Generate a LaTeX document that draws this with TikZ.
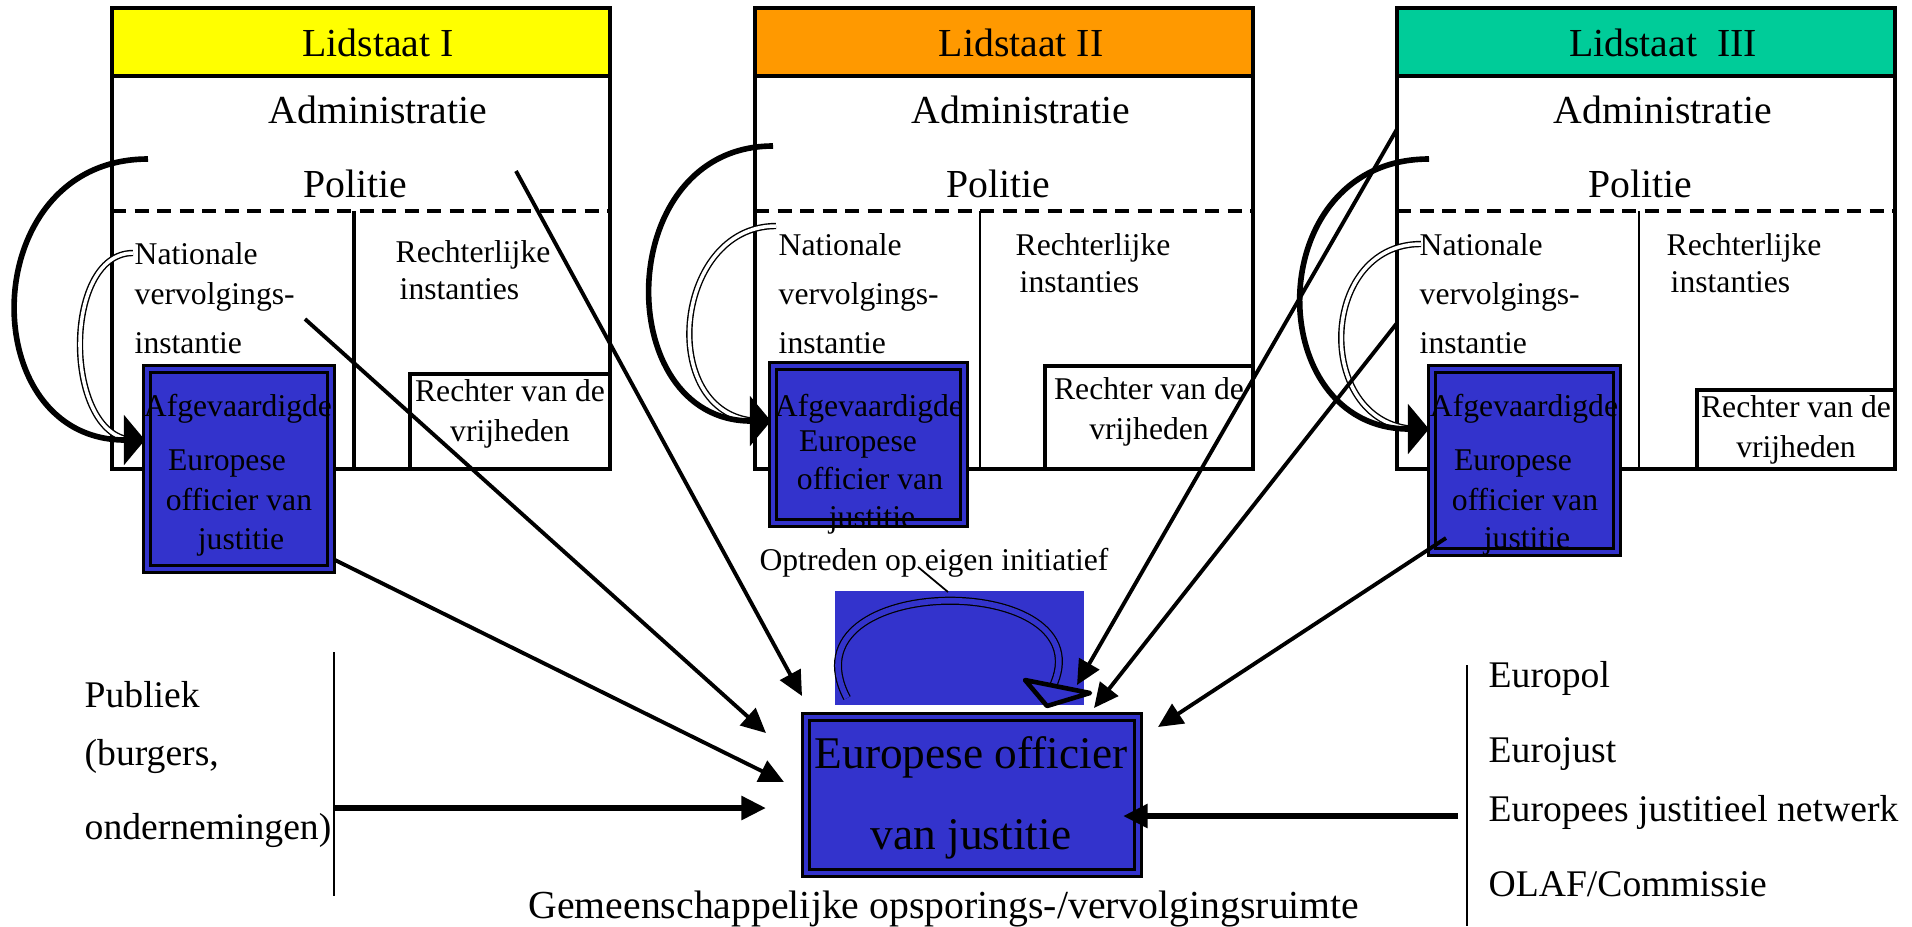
\documentclass[tikz,border=0pt]{standalone}
\usepackage{fontspec}
\setmainfont{Liberation Serif}
\usetikzlibrary{arrows.meta, fit, positioning}

\definecolor{lsyellow}{HTML}{FFFF00}
\definecolor{lsorange}{HTML}{FF9900}
\definecolor{lsgreen}{HTML}{00CC99}
\definecolor{eoblue}{HTML}{3333CC}

\tikzset{
  panel/.style={draw, line width=0.9pt, inner sep=0pt},
  eobox/.style={draw=black, line width=0.85pt, double=eoblue, double distance=0.9pt, fill=eoblue, inner sep=0pt},
  bigtxt/.style={font=\fontsize{11.3}{13}\selectfont, inner sep=0pt, text height=1.5ex, text depth=.25ex},
  smalltxt/.style={font=\fontsize{9}{11}\selectfont, inner sep=0pt, text height=1.5ex, text depth=.25ex},
  listtxt/.style={font=\fontsize{10.7}{12}\selectfont, inner sep=0pt, anchor=west, text height=1.5ex, text depth=.25ex},
  feed/.style={-{Triangle[length=7pt, width=6.5pt]}, line width=1.1pt},
  thickfeed/.style={-{Triangle[length=7pt, width=6.5pt]}, line width=1.7pt},
  bigarc/.style={-{Triangle[length=6pt, width=14pt]}, line width=1.6pt},
  thinarc/.style={draw=black, line width=0.4pt, double=white, double distance=1pt}
}

\begin{document}
\begin{tikzpicture}[x=0.01cm, y=-0.01cm]
        \path[use as bounding box, fill=white] (0,0) rectangle (1912,926);

        % Lidstaten: kop, kader, administratie en politie
        \foreach \nm/\lx/\col/\lab in {I/112/lsyellow/Lidstaat I, II/755/lsorange/Lidstaat II, III/1397/lsgreen/Lidstaat\ \ III}{
            \node[panel, fill=\col, fit={(\lx,8) (\lx+498,76)}] (kop\nm) {};
            \node[panel, fill=white, fit={(\lx,76) (\lx+498,469)}] (kader\nm) {};
            \node[bigtxt] (kopt\nm) at (\lx+266,46) {\lab};
            \node[bigtxt] (adm\nm) at (\lx+266,113) {Administratie};
            \node[bigtxt] (pol\nm) at (\lx+243,187) {Politie};
            \draw[line width=1pt, dash pattern=on 4pt off 2.4pt] (\lx,211) -- (\lx+498,211);
        }

        % Scheiding vervolging / rechters
        \foreach \dx/\lw in {354/1.3pt, 980/0.5pt, 1639/0.5pt}
            \draw[line width=\lw] (\dx,211) -- (\dx,469);

        % Nationale vervolgingsinstantie en rechterlijke instanties
        \foreach \nm/\nx/\ny/\rx/\ry in {I/134/254/395/252, II/778/245/1015/245, III/1419/245/1666/245}{
            \node[smalltxt, anchor=west] (nat\nm) at (\nx,\ny) {Nationale};
            \node[smalltxt, anchor=west] (verv\nm) at (\nx,294) {vervolgings-};
            \node[smalltxt, anchor=west] (inst\nm) at (\nx,343) {instantie};
            \node[smalltxt, anchor=west] (recht\nm) at (\rx,\ry) {Rechterlijke};
            \node[smalltxt, anchor=west] (insts\nm) at (\rx+4,\ry+37) {instanties};
        }

        % Rechter van de vrijheden
        \foreach \nm/\bx/\by/\ex/\dy in {I/410/374/610/17, II/1045/366/1253/23, III/1697/390/1895/17}{
            \node[panel, fill=white, fit={(\bx,\by) (\ex,469)}] (rvd\nm) {};
            \node[smalltxt] (rvdt\nm) at (\bx/2+\ex/2,\by+\dy) {Rechter van de};
            \node[smalltxt, below=3pt of rvdt\nm] (vrij\nm) {vrijheden};
        }

        % Afgevaardigde Europese officier van justitie
        \node[eobox, fit={(147,369) (331,569)}] (afgboxI) {};
        \node[eobox, fit={(773,366) (964,523)}] (afgboxII) {};
        \node[eobox, fit={(1432,369) (1617,552)}] (afgboxIII) {};
        \foreach \nm/\cx/\yb/\yc/\yd in {I/238/460/500/539, II/869/441/479/517, III/1524/460/500/538}{
            \node[smalltxt] (afg\nm) at (\cx,406) {Afgevaardigde};
            \node[smalltxt] (eur\nm) at (\cx-11,\yb) {Europese};
            \node[smalltxt] (off\nm) at (\cx+1,\yc) {officier van};
            \node[smalltxt] (jus\nm) at (\cx+3,\yd) {justitie};
        }

        % Centrale Europese officier van justitie
        \node[smalltxt] (opt) at (934,560) {Optreden op eigen initiatief};
        \node[fill=eoblue, inner sep=0pt, fit={(835,591) (1084,705)}] (optbox) {};
        \node[eobox, fit={(806,717) (1138,873)}] (eoj) {};
        \node[font=\fontsize{12.9}{15}\selectfont, inner sep=0pt] (eojt1) at (971,757) {Europese officier};
        \node[font=\fontsize{12.9}{15}\selectfont, inner sep=0pt] (eojt2) at (971,839) {van justitie};
        \node[bigtxt] (ruimte) at (944,908) {Gemeenschappelijke opsporings-/vervolgingsruimte};

        % eigen initiatief
        \coordinate (lusbegin) at (847,698);
        \coordinate (luseind) at (1052,688);
        \coordinate (optvoet) at (918,567);
        \coordinate (lustop) at (948,592);
        \draw[draw=black, line width=0.35pt, double=eoblue, double distance=1.6pt]
            (lusbegin) .. controls (780,570) and (1110,570) .. (luseind);
        \draw[line width=1.3pt, line join=round, fill=eoblue] (1025,680) -- (1090,693) -- (1047,706) -- cycle;
        \draw[line width=0.5pt] (optvoet) -- (lustop);

        % Publiek en Europese organen
        \node[listtxt] (pub1) at (84,697) {Publiek};
        \node[listtxt] (pub2) at (84,755) {(burgers,};
        \node[listtxt] (pub3) at (84,829) {ondernemingen)};
        \coordinate (pubtop) at (334,652);
        \coordinate (pubbot) at (334,896);
        \draw[line width=0.6pt] (pubtop) -- (pubbot);
        \node[listtxt] (eupol) at (1488,677) {Europol};
        \node[listtxt] (eujust) at (1488,752) {Eurojust};
        \node[listtxt] (ejn) at (1488,811) {Europees justitieel netwerk};
        \node[listtxt] (olaf) at (1488,886) {OLAF/Commissie};
        \coordinate (orgtop) at (1467,665);
        \coordinate (orgbot) at (1467,926);
        \draw[line width=0.6pt] (orgtop) -- (orgbot);

        % Bogen binnen de lidstaten
        \draw[thinarc] (133,253) .. controls (61,253) and (63,440) .. (135,440);
        \draw[thinarc] (776,226) .. controls (671,226) and (656,421) .. (761,421);
        \draw[thinarc] (1421,244) .. controls (1316,244) and (1314,429) .. (1419,429);
        \draw[bigarc] (148,159) .. controls (-25,159) and (-28,440) .. (145,440);
        \draw[bigarc] (773,146) .. controls (612,146) and (610,421) .. (771,421);
        \draw[bigarc] (1429,159) .. controls (1260,159) and (1260,429) .. (1429,429);

        % Verbindingen naar de Europese officier van justitie
        \coordinate (vanpolI) at (516,171);
        \coordinate (vannatI) at (305,319);
        \coordinate (vanafgI) at (335,560);
        \coordinate (vankaderIII) at (1397,129);
        \coordinate (vannatIII) at (1397,323);
        \coordinate (vanafgIII) at (1446,538);
        \coordinate (vanpub) at (334,808);
        \coordinate (vanorg) at (1458,816);
        \coordinate (naar1) at (802,696);
        \coordinate (naar2) at (766,733);
        \coordinate (naar3) at (784,782);
        \coordinate (naar4) at (1077,685);
        \coordinate (naar5) at (1094,708);
        \coordinate (naar6) at (1158,727);
        \coordinate (naarpub) at (766,808);
        \coordinate (naarorg) at (1123,816);
        \foreach \a/\b in {vanpolI/naar1, vannatI/naar2, vanafgI/naar3, vankaderIII/naar4, vannatIII/naar5, vanafgIII/naar6}
            \draw[feed] (\a) -- (\b);
        \draw[thickfeed] (vanpub) -- (naarpub);
        \draw[thickfeed] (vanorg) -- (naarorg);
\end{tikzpicture}
\end{document}
